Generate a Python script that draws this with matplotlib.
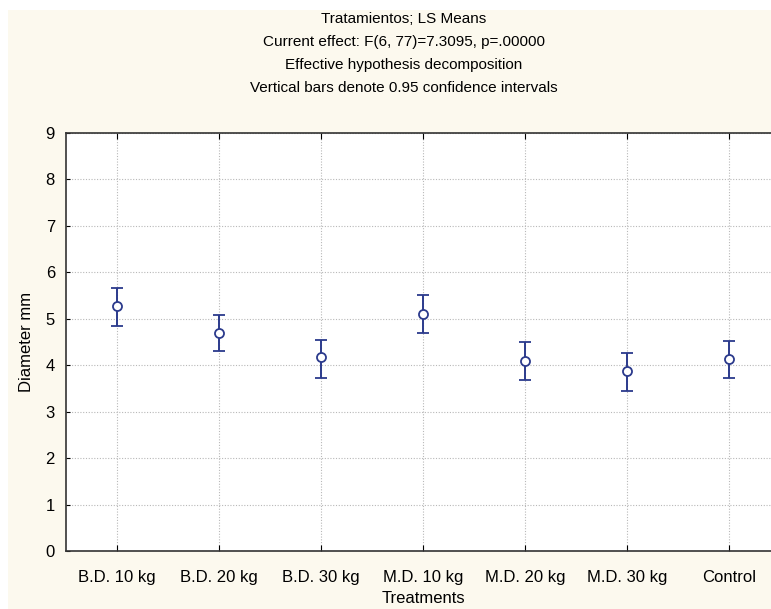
import matplotlib.pyplot as plt
from matplotlib.patches import Rectangle

treatments = ["B.D. 10 kg", "B.D. 20 kg", "B.D. 30 kg", "M.D. 10 kg",
              "M.D. 20 kg", "M.D. 30 kg", "Control"]
ls_means = [5.28, 4.69, 4.17, 5.11, 4.09, 3.87, 4.14]
ci_low = [4.84, 4.30, 3.73, 4.70, 3.68, 3.45, 3.73]
ci_high = [5.66, 5.09, 4.55, 5.52, 4.50, 4.27, 4.53]

title_lines = [
    "Tratamientos; LS Means",
    "Current effect: F(6, 77)=7.3095, p=.00000",
    "Effective hypothesis decomposition",
    "Vertical bars denote 0.95 confidence intervals",
]

plt.rcParams["font.family"] = ["Liberation Sans", "DejaVu Sans"]

BLUE = "#2b3a8c"
CREAM = "#fcf9ee"

fig = plt.figure(figsize=(7.71, 6.09), dpi=100, facecolor="white")
bg = Rectangle((8 / 771, 0), 1, 1 - 10 / 609, transform=fig.transFigure,
               facecolor=CREAM, edgecolor="none", zorder=-10)
fig.add_artist(bg)

ax = fig.add_axes([66 / 771, 58 / 609, 714 / 771, 418 / 609])
ax.set_facecolor("white")

x = list(range(len(treatments)))
yerr = [[m - lo for m, lo in zip(ls_means, ci_low)],
        [hi - m for m, hi in zip(ls_means, ci_high)]]
ax.errorbar(x, ls_means, yerr=yerr, fmt="o", color=BLUE, ecolor=BLUE,
            elinewidth=1.4, capsize=4.5, capthick=1.4, markersize=6.5,
            markerfacecolor="white", markeredgecolor=BLUE, markeredgewidth=1.3,
            zorder=3)

ax.set_xlim(-0.5, len(treatments) - 0.5)
ax.set_ylim(0, 9)
ax.set_yticks(range(0, 10))
ax.set_xticks(x)
ax.set_xticklabels(treatments, fontsize=12)
ax.tick_params(axis="y", labelsize=12, direction="in", length=3, pad=8)
ax.tick_params(axis="x", direction="in", length=4, top=True, pad=14)

ax.grid(True, color="#b8b8b8", linestyle=(0, (1, 1.5)), linewidth=0.8)
ax.set_axisbelow(True)
for side in ["left", "top", "bottom"]:
    ax.spines[side].set_color("#333333")
    ax.spines[side].set_linewidth(1.2)

ax.set_xlabel("Treatments", fontsize=12, labelpad=4)
ax.set_ylabel("Diameter mm", fontsize=12, labelpad=8)

for i, line in enumerate(title_lines):
    fig.text(404 / 771, 1 - (19 + 23 * i) / 609, line, ha="center", va="center",
             fontsize=11)

fig.savefig("out.png", dpi=100, facecolor=fig.get_facecolor())
